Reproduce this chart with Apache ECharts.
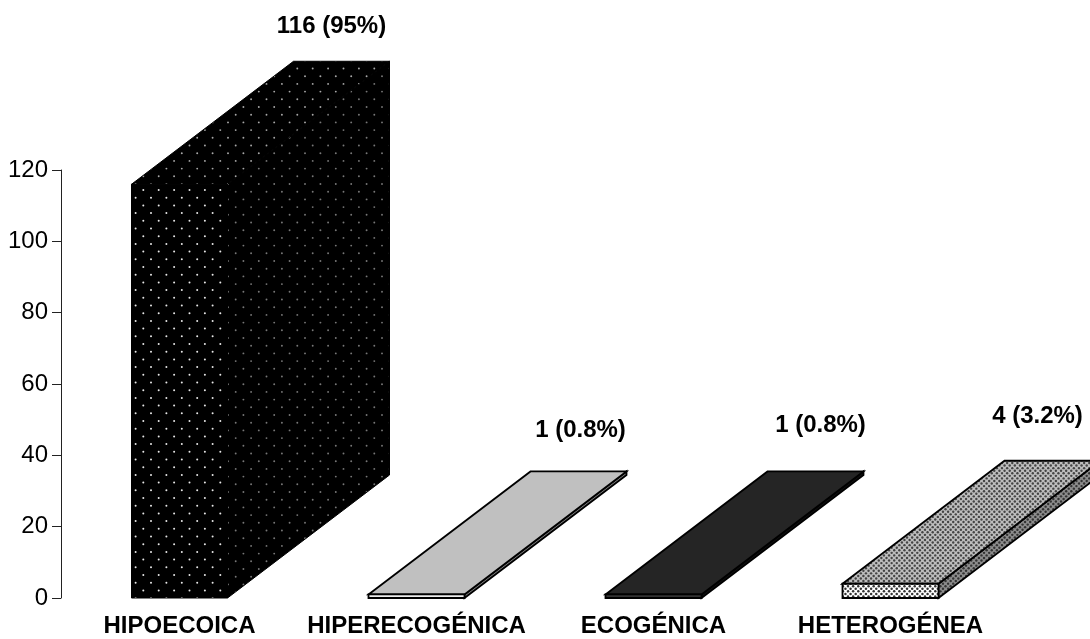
<!DOCTYPE html>
<html>
<head>
<meta charset="utf-8">
<style>html,body{margin:0;padding:0;background:#fff}#chart{width:1090px;height:639px}</style>
<script src="https://cdn.jsdelivr.net/npm/echarts@6/dist/echarts.min.js"></script>
</head>
<body>
<div id="chart"></div>
<script>
const categories = ['HIPOECOICA', 'HIPERECOGÉNICA', 'ECOGÉNICA', 'HETEROGÉNEA'];
const counts = [116, 1, 1, 4];
const shares = ['95%', '0.8%', '0.8%', '3.2%'];
const axisTicks = [0, 20, 40, 60, 80, 100, 120];

// Where each value label sits relative to the bar's front top-left corner
const labelNudge = [[200, -158], [212, -164], [215, -169], [195, -167]];
const depthX = 162, depthY = 123, barWidth = 96;

// Repeating dot tile; pitch in px, two staggered dots per cell, phase shifts the grid
function dots(bg, dot, pitch, radius, phaseX, phaseY, cells) {
  const size = Math.round(pitch * cells);
  const c = document.createElement('canvas');
  c.width = c.height = size;
  const g = c.getContext('2d');
  g.fillStyle = bg;
  g.fillRect(0, 0, size, size);
  g.fillStyle = dot;
  const step = size / cells;
  for (let i = -1; i <= cells; i++) {
    for (let j = -1; j <= cells; j++) {
      g.beginPath();
      g.arc(i * step + phaseX, j * step + phaseY, radius, 0, 7);
      g.fill();
      g.beginPath();
      g.arc(i * step + phaseX + step / 2, j * step + phaseY + step / 2, radius, 0, 7);
      g.fill();
    }
  }
  return { image: c, repeat: 'repeat' };
}

const faces = [
  { front: dots('#000', '#e8e8e8', 15.4, 1.0, 4.7, 5.2, 5),
    top: dots('#000', '#a8a8a8', 15.4, 0.95, 4.7, 6.9, 5),
    side: dots('#000', '#777', 15.4, 0.95, 4.7, 6.9, 5), width: 1 },
  { front: '#eeeeee', top: '#c0c0c0', side: '#808080', width: 1.8 },
  { front: '#333333', top: '#252525', side: '#111111', width: 1.8 },
  { front: dots('#fff', '#333', 5.13, 1.25, 1, 1, 15),
    top: dots('#bdbdbd', '#444', 5.13, 1.2, 1, 1, 15),
    side: dots('#8c8c8c', '#333', 5.13, 1.2, 1, 1, 15), width: 1.8 }
];

function drawBar(params, api) {
  const i = api.value(0);
  const base = api.coord([i, 0]);
  const head = api.coord([i, api.value(1)]);
  const x0 = base[0] - barWidth / 2, x1 = x0 + barWidth;
  const y0 = base[1], y1 = head[1];
  const f = faces[i];
  const poly = (points, fill, stroke) => ({
    type: 'polygon',
    shape: { points },
    style: { fill, stroke: stroke, lineWidth: f.width, lineJoin: 'miter' }
  });
  return {
    type: 'group',
    children: [
      poly([[x1, y0], [x1 + depthX, y0 - depthY], [x1 + depthX, y1 - depthY], [x1, y1]], f.side, '#000'),
      poly([[x0, y1], [x0 + depthX, y1 - depthY], [x1 + depthX, y1 - depthY], [x1, y1]], f.top, '#000'),
      poly([[x0, y0], [x1, y0], [x1, y1], [x0, y1]], f.front, '#000'),
      {
        type: 'text',
        style: {
          x: x0 + labelNudge[i][0],
          y: y1 + labelNudge[i][1],
          text: api.value(1) + ' (' + shares[i] + ')',
          fill: '#000',
          font: 'bold 24px "Liberation Sans"',
          align: 'center',
          verticalAlign: 'middle'
        }
      }
    ]
  };
}

const chart = echarts.init(document.getElementById('chart'), null, { renderer: 'canvas' });
chart.setOption({
  animation: false,
  backgroundColor: '#fff',
  grid: { left: 61, top: 170, width: 948, height: 428 },
  xAxis: {
    type: 'category',
    data: categories,
    axisLine: { show: false },
    axisTick: { show: false },
    axisLabel: {
      interval: 0, margin: 16, color: '#000', fontSize: 24, fontWeight: 'bold',
      fontFamily: 'Liberation Sans', overflow: 'none'
    }
  },
  yAxis: {
    type: 'value',
    min: axisTicks[0],
    max: axisTicks[axisTicks.length - 1],
    interval: axisTicks[1] - axisTicks[0],
    splitLine: { show: false },
    axisLine: { show: true, lineStyle: { color: '#222', width: 1 } },
    axisTick: { show: true, length: 9, lineStyle: { color: '#222', width: 1 } },
    axisLabel: { margin: 13, color: '#000', fontSize: 24, fontFamily: 'Liberation Sans' }
  },
  series: [{
    type: 'custom',
    clip: false,
    coordinateSystem: 'cartesian2d',
    renderItem: drawBar,
    encode: { x: 0, y: 1 },
    data: counts.map((v, i) => [i, v])
  }]
});
</script>
</body>
</html>
